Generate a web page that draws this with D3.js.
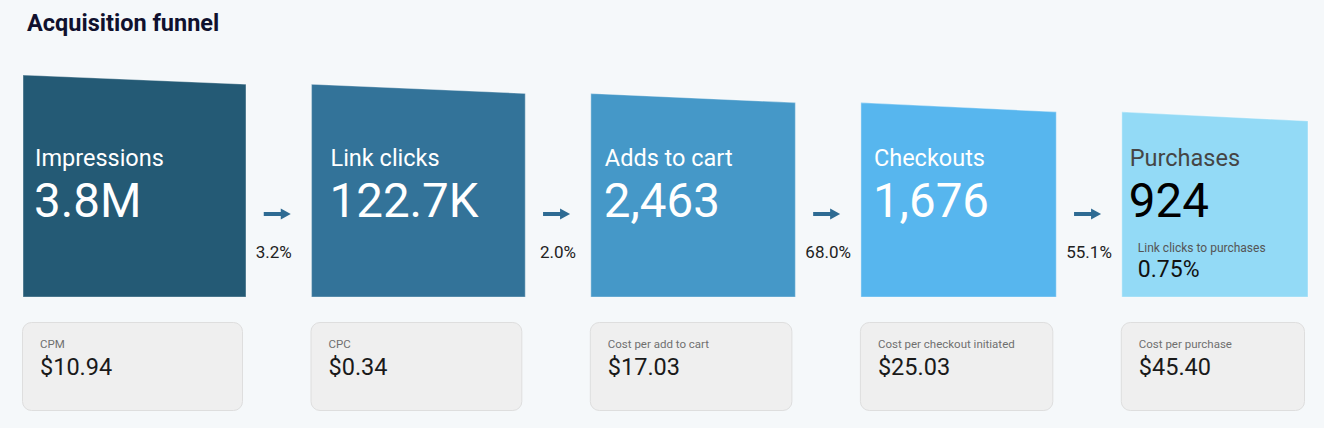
<!DOCTYPE html>
<html>
<head>
<meta charset="utf-8">
<script src="https://cdn.jsdelivr.net/npm/d3@7"></script>
<style>
  body { margin: 0; background: #f5f8fa; }
  svg { display: block; font-family: Roboto, "Noto Sans", sans-serif; }
</style>
</head>
<body>
<svg id="funnel" width="1324" height="428"></svg>
<script>
// funnel stages, top to bottom
const stages = ["Impressions", "Link clicks", "Adds to cart", "Checkouts", "Purchases"];
const stageValues = ["3.8M", "122.7K", "2,463", "1,676", "924"];
// step conversion between stages
const stepRates = ["3.2%", "2.0%", "68.0%", "55.1%"];
// cost cards under each stage
const costLabels = ["CPM", "CPC", "Cost per add to cart", "Cost per checkout initiated", "Cost per purchase"];
const costValues = ["$10.94", "$0.34", "$17.03", "$25.03", "$45.40"];
// overall conversion shown in the last block
const overallLabel = "Link clicks to purchases";
const overallValue = "0.75%";

const colors = ["#245a75", "#337399", "#4598c8", "#57b6ee", "#93daf6"];
const textInset = [12, 19, 14, 13, 8]; // left padding of the text in each block

(function() {
    var svg = d3.select("#funnel");
    var baseY = 297, gap = 65.5, left = 23;

    //each block shrinks a bit; left edge uses i, right edge i+1 so the tops line up like a funnel
    var size = d3.scaleLinear().domain([0, stages.length]).range([222, 176]);

    var blocks = [];
    var x = left;
    stages.forEach((name, i) => {
        var w = size(i) + 1;
        blocks.push({ name, value: stageValues[i], i, x0: x, x1: x + w, hl: size(i), hr: size(i + 1) });
        x += w + gap;
    });

    svg.append("text")
        .attr("x", 27).attr("y", 31)
        .attr("font-size", 23.5).attr("font-weight", 700)
        .attr("fill", "#10112e")
        .text("Acquisition funnel");

    var g = svg.append("g");

    g.selectAll("path.block")
        .data(blocks)
        .join("path")
            .attr("class", "block")
            .attr("d", d => {
                var p = d3.path();
                p.moveTo(d.x0, baseY - d.hl);
                p.lineTo(d.x1, baseY - d.hr);
                p.lineTo(d.x1, baseY);
                p.lineTo(d.x0, baseY);
                p.closePath();
                return p.toString();
            })
            .attr("fill", d => colors[d.i])
            .attr("stroke", "rgba(255,255,255,0.35)")
            .attr("stroke-width", 1.2);

    var last = stages.length - 1;

    g.selectAll("text.stage")
        .data(blocks)
        .join("text")
            .attr("class", "stage")
            .attr("x", d => d.x0 + textInset[d.i])
            .attr("y", 166)
            .attr("font-size", 23.5)
            .attr("fill", d => d.i == last ? "#454545" : "#fff")
            .text(d => d.name);

    g.selectAll("text.value")
        .data(blocks)
        .join("text")
            .attr("class", "value")
            .attr("x", d => d.x0 + textInset[d.i] - 1)
            .attr("y", 217)
            .attr("font-size", 47.5)
            .attr("fill", d => d.i == last ? "#000" : "#fff")
            .text(d => d.value);

    //overall conversion inside the last block
    var lb = blocks[last];
    g.append("text")
        .attr("x", lb.x0 + 16).attr("y", 252)
        .attr("font-size", 12).attr("fill", "#555")
        .text(overallLabel);
    g.append("text")
        .attr("x", lb.x0 + 16).attr("y", 277)
        .attr("font-size", 23).attr("fill", "#111")
        .text(overallValue);

    //arrows + step rates in the gaps
    var steps = stepRates.map((r, i) => ({ rate: r, a: blocks[i].x1, b: blocks[i + 1].x0 }));

    var arrows = g.selectAll("g.arrow")
        .data(steps)
        .join("g")
            .attr("class", "arrow")
            .attr("transform", d => `translate(${(d.a + d.b) / 2 - 2}, 214)`);
    arrows.append("line")
        .attr("x1", -13).attr("x2", 6)
        .attr("stroke", "#2e6b93").attr("stroke-width", 4);
    arrows.append("path")
        .attr("d", "M4,-5.5L14,0L4,5.5Z")
        .attr("fill", "#2e6b93");

    g.selectAll("text.rate")
        .data(steps)
        .join("text")
            .attr("class", "rate")
            .attr("x", (d, i) => (d.a + d.b) / 2 - (i == 0 ? 5 : 0))
            .attr("y", 258)
            .attr("text-anchor", "middle")
            .attr("font-size", 17)
            .attr("fill", "#222")
            .text(d => d.rate);

    //cost cards
    var cards = g.selectAll("g.card")
        .data(blocks)
        .join("g")
            .attr("class", "card")
            .attr("transform", d => `translate(${d.x0 - 1}, 322)`);
    cards.append("rect")
        .attr("x", 0.5).attr("y", 0.5)
        .attr("width", d => d.x1 - d.x0 - 3)
        .attr("height", 88)
        .attr("rx", 9)
        .attr("fill", "#efefef")
        .attr("stroke", "#dedede");
    cards.append("text")
        .attr("x", 18).attr("y", 26)
        .attr("font-size", 11.5).attr("fill", "#6f6f6f")
        .text(d => costLabels[d.i]);
    cards.append("text")
        .attr("x", 18).attr("y", 53)
        .attr("font-size", 23.5).attr("fill", "#1a1a1a")
        .text(d => costValues[d.i]);
})();
</script>
</body>
</html>
